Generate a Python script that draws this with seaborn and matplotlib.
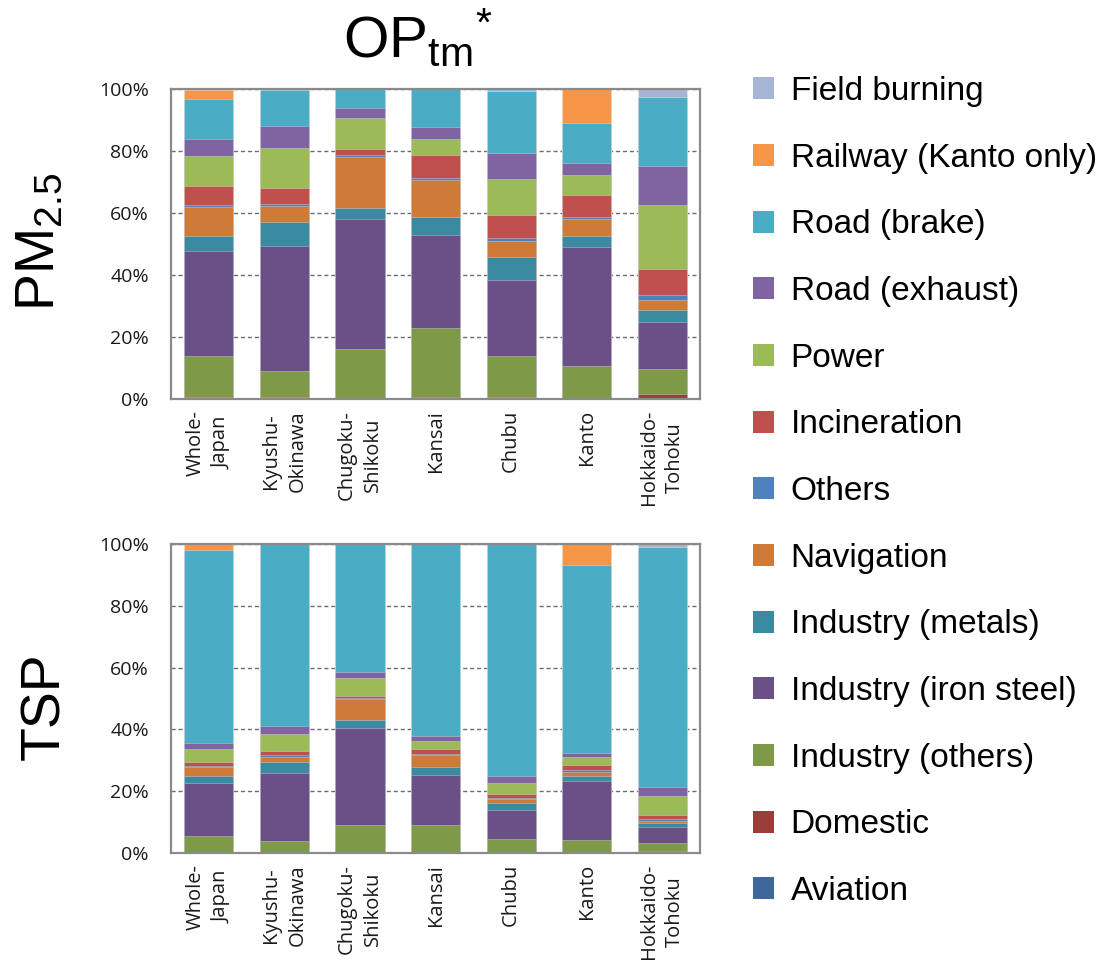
import pandas as pd
import numpy as np
import matplotlib
matplotlib.use('Agg')
import matplotlib.pyplot as plt
from matplotlib.patches import Patch
import seaborn as sns

sns.set_theme(style='white')
plt.rcParams['font.family'] = ['Liberation Sans', 'DejaVu Sans']
plt.rcParams['text.color'] = 'black'

regions = ['Whole-\nJapan', 'Kyushu-\nOkinawa', 'Chugoku-\nShikoku', 'Kansai',
           'Chubu', 'Kanto', 'Hokkaido-\nTohoku']

# stacking order, bottom -> top
sources = ['Aviation', 'Domestic', 'Industry (others)', 'Industry (iron steel)',
           'Industry (metals)', 'Navigation', 'Others', 'Incineration', 'Power',
           'Road (exhaust)', 'Road (brake)', 'Railway (Kanto only)', 'Field burning']
colors = ['#3D6899', '#9C3D3A', '#7E9A49', '#6A5086', '#3A8AA2', '#CD7B37', '#4F81BD',
          '#C0504D', '#9BBB59', '#8064A2', '#4BACC6', '#F79646', '#A6B5D6']

# PM2.5 shares (%) per region
pm_aviation = [0.1, 0.1, 0.1, 0.1, 0.1, 0.1, 0.1]
pm_domestic = [0.5, 0.4, 0.2, 0.4, 0.6, 0.3, 1.6]
pm_ind_others = [13.3, 8.5, 15.8, 22.5, 13.3, 10.1, 8.1]
pm_iron_steel = [33.7, 40.4, 41.9, 29.8, 24.4, 38.5, 15.0]
pm_metals = [4.9, 7.7, 3.7, 5.8, 7.3, 3.6, 3.8]
pm_navigation = [9.5, 5.2, 16.3, 12.1, 5.4, 5.3, 3.3]
pm_others = [0.6, 0.7, 0.6, 0.6, 0.8, 0.7, 1.8]
pm_incineration = [6.1, 5.2, 2.1, 7.3, 7.6, 7.1, 8.2]
pm_power = [9.6, 12.8, 9.9, 5.2, 11.4, 6.7, 20.8]
pm_exhaust = [5.6, 7.1, 3.4, 3.8, 8.3, 3.7, 12.3]
pm_brake = [13.0, 11.5, 6.0, 12.4, 20.3, 12.9, 22.5]
pm_railway = [2.7, 0.0, 0.0, 0.0, 0.0, 11.0, 0.0]
pm_field = [0.4, 0.4, 0.0, 0.0, 0.5, 0.0, 2.5]

# TSP shares (%) per region
tsp_aviation = [0.1, 0.1, 0.1, 0.1, 0.1, 0.1, 0.1]
tsp_domestic = [0.2, 0.2, 0.1, 0.1, 0.2, 0.2, 0.6]
tsp_ind_others = [5.3, 3.7, 8.9, 8.7, 4.1, 3.9, 2.5]
tsp_iron_steel = [17.0, 21.8, 31.3, 16.3, 9.6, 19.2, 5.3]
tsp_metals = [2.2, 3.7, 2.5, 2.7, 2.3, 1.4, 1.2]
tsp_navigation = [3.0, 1.5, 6.9, 3.7, 1.1, 1.4, 0.7]
tsp_others = [0.4, 0.6, 0.5, 0.4, 0.4, 0.7, 0.7]
tsp_incineration = [1.2, 1.4, 0.5, 1.7, 1.4, 1.5, 1.3]
tsp_power = [4.1, 5.5, 5.7, 2.5, 3.6, 2.6, 6.1]
tsp_exhaust = [2.2, 2.7, 1.9, 1.5, 2.2, 1.4, 3.0]
tsp_brake = [62.3, 58.7, 41.6, 62.3, 74.9, 60.8, 77.4]
tsp_railway = [1.9, 0.0, 0.0, 0.0, 0.0, 6.8, 0.0]
tsp_field = [0.1, 0.1, 0.0, 0.0, 0.1, 0.0, 1.1]

pm_series = [pm_aviation, pm_domestic, pm_ind_others, pm_iron_steel, pm_metals,
             pm_navigation, pm_others, pm_incineration, pm_power, pm_exhaust,
             pm_brake, pm_railway, pm_field]
tsp_series = [tsp_aviation, tsp_domestic, tsp_ind_others, tsp_iron_steel, tsp_metals,
              tsp_navigation, tsp_others, tsp_incineration, tsp_power, tsp_exhaust,
              tsp_brake, tsp_railway, tsp_field]


def stacked_frame(series):
    # cumulative top of each segment, so overlapping bars look stacked
    cum = np.cumsum(np.array(series, dtype=float), axis=0)
    rows = []
    for i, src in enumerate(sources):
        for j, reg in enumerate(regions):
            rows.append({'region': reg, 'source': src, 'top': cum[i, j] / 100.0})
    return pd.DataFrame(rows)


palette = dict(zip(sources, colors))
draw_order = sources[::-1]   # tallest drawn first, smaller ones on top

fig = plt.figure(figsize=(11.05, 9.6), dpi=100)
ax1 = fig.add_axes([0.1548, 0.5844, 0.4787, 0.3229])
ax2 = fig.add_axes([0.1548, 0.1115, 0.4787, 0.3219])

for ax, series in [(ax1, pm_series), (ax2, tsp_series)]:
    df = stacked_frame(series)
    sns.barplot(data=df, x='region', y='top', hue='source', hue_order=draw_order,
                order=regions, palette=palette, dodge=False, saturation=1,
                width=0.65, errorbar=None, legend=False, linewidth=0.6,
                edgecolor=(1, 1, 1, 0.35), ax=ax)
    ax.set_xlim(-0.5, len(regions) - 0.5)
    ax.set_ylim(0, 1)
    ax.set_yticks([0, 0.2, 0.4, 0.6, 0.8, 1.0])
    ax.set_yticklabels(['0%', '20%', '40%', '60%', '80%', '100%'],
                       fontfamily='Open Sans', fontsize=14, color='#1a1a1a')
    ax.set_xticks(range(len(regions)))
    ax.set_xticklabels(regions, rotation=90, fontfamily='Open Sans', fontsize=14.5,
                       va='top', ha='center', multialignment='center',
                       linespacing=1.4, color='#1a1a1a')
    ax.tick_params(axis='both', length=0)
    ax.tick_params(axis='y', pad=16)
    ax.tick_params(axis='x', pad=8)
    ax.set_xlabel('')
    ax.set_ylabel('')
    ax.yaxis.grid(True, linestyle=(0, (3, 2)), color='#6e6e6e', linewidth=1.0)
    ax.xaxis.grid(False)
    ax.set_axisbelow(True)
    for sp in ax.spines.values():
        sp.set_color('#8a8a8a')
        sp.set_linewidth(1.6)

fig.text(418 / 1105, 1 - 38 / 960, r'$\mathregular{OP_{tm}{}^{*}}$', fontsize=42,
         ha='center', va='center')
fig.text(40 / 1105, 1 - 242 / 960, r'$\mathregular{PM_{2.5}}$', fontsize=40,
         rotation=90, ha='center', va='center')
fig.text(45 / 1105, 1 - 706 / 960, 'TSP', fontsize=40, rotation=90,
         ha='center', va='center')

handles = [Patch(facecolor=palette[s], edgecolor='none', label=s) for s in draw_order]
fig.legend(handles=handles, loc='upper left', bbox_to_anchor=(753 / 1105, 1 - 76 / 960),
           frameon=False, fontsize=24, handlelength=0.63, handleheight=0.63,
           handletextpad=0.5, labelspacing=1.07, borderpad=0, borderaxespad=0)

fig.savefig('out.png', dpi=100)
